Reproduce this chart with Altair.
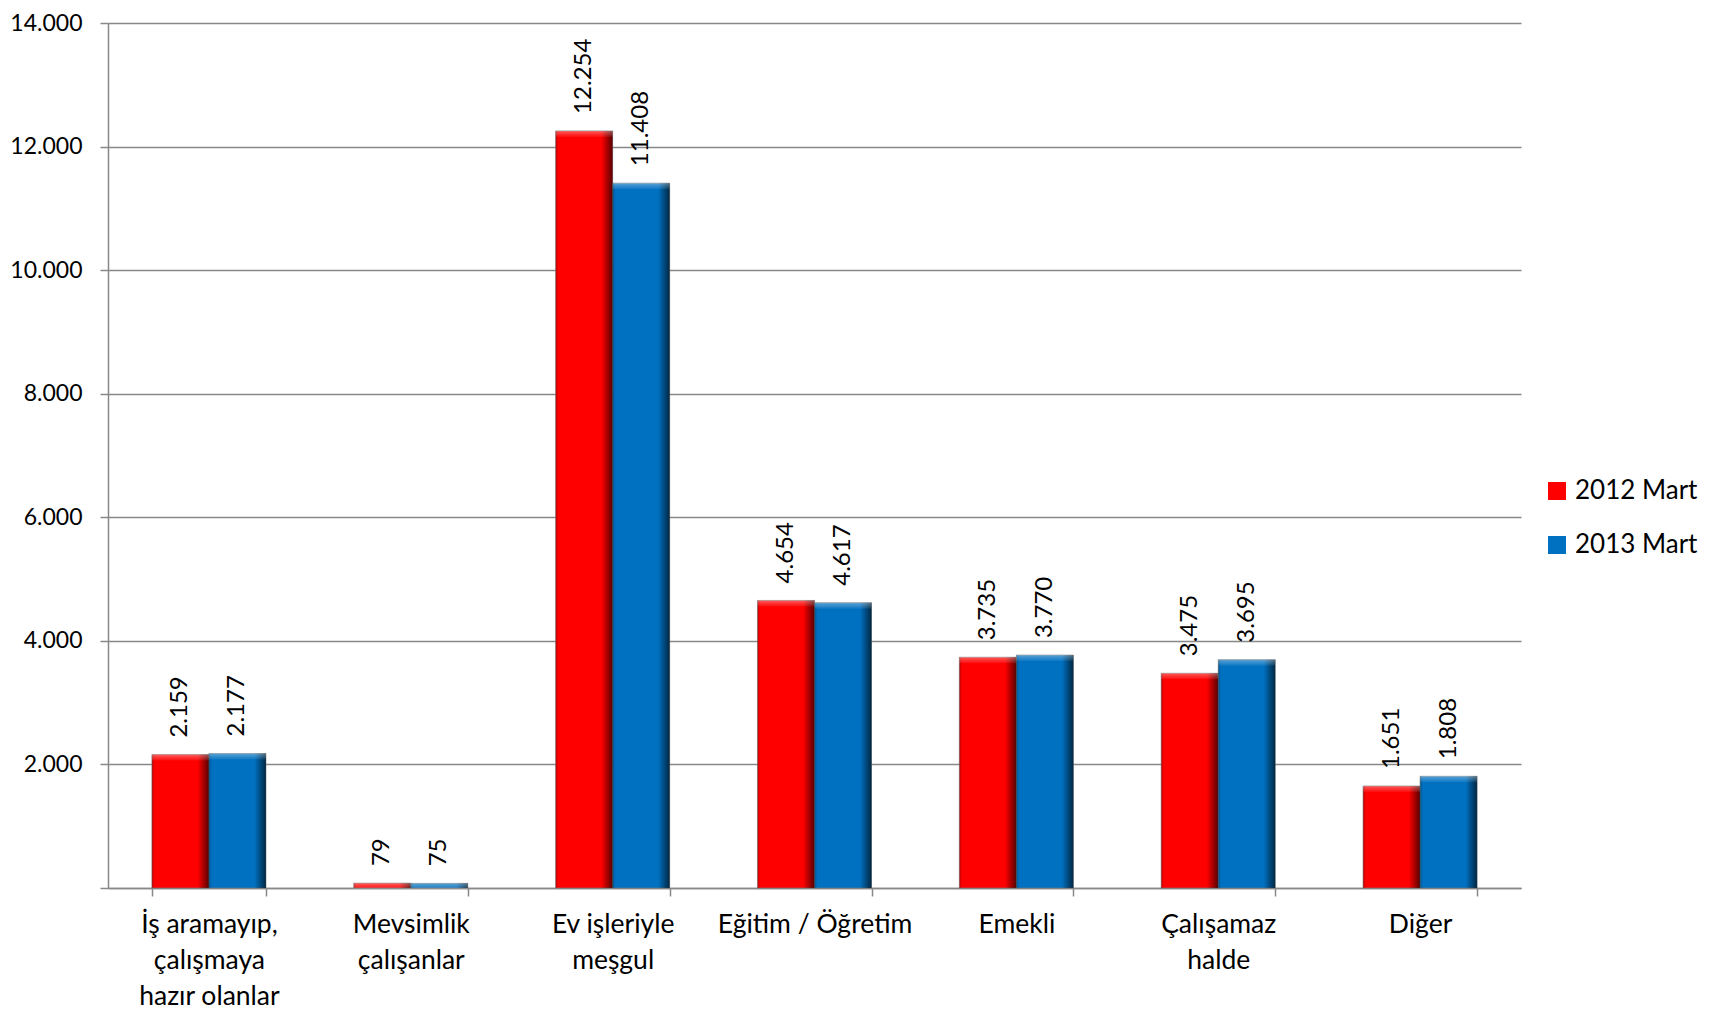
import altair as alt
import pandas as pd

categories = [
    "İş aramayıp,|çalışmaya|hazır olanlar",
    "Mevsimlik|çalışanlar",
    "Ev işleriyle|meşgul",
    "Eğitim / Öğretim",
    "Emekli",
    "Çalışamaz|halde",
    "Diğer",
]
series = ["2012 Mart", "2013 Mart"]
values_2012 = [2159, 79, 12254, 4654, 3735, 3475, 1651]
values_2013 = [2177, 75, 11408, 4617, 3770, 3695, 1808]
colors = ["#FF0000", "#0070C0"]
y_ticks = [0, 2000, 4000, 6000, 8000, 10000, 12000, 14000]

rows = []
for s, vals in zip(series, [values_2012, values_2013]):
    for c, v in zip(categories, vals):
        rows.append({"cat": c, "series": s, "value": v,
                     "label": f"{v:,}".replace(",", ".")})
df = pd.DataFrame(rows)

FONT = "Lato"
GRAY = "#888888"

x = alt.X(
    "cat:N", sort=categories, title=None,
    scale=alt.Scale(paddingInner=0.435, paddingOuter=0.2175),
    axis=alt.Axis(
        labelExpr="split(datum.label, '|')", labelAngle=0, tickBand="extent",
        domainColor=GRAY, domainWidth=1.5, tickColor=GRAY, tickWidth=1.5, tickSize=8,
        labelFontSize=26.5, labelFont=FONT, labelColor="black", labelPadding=15,
        labelLineHeight=36, labelBaseline="top", labelLimit=400, grid=False,
    ),
)
xo = alt.XOffset("series:N", sort=series, scale=alt.Scale(paddingInner=0, paddingOuter=0))
y = alt.Y(
    "value:Q", title=None,
    scale=alt.Scale(domain=[0, 14000], nice=False),
    axis=alt.Axis(
        values=y_ticks,
        labelExpr="datum.value == 0 ? '' : replace(format(datum.value, ',.0f'), ',', '.')",
        grid=True, gridColor=GRAY, gridWidth=1.5,
        domainColor=GRAY, domainWidth=1.5, tickColor=GRAY, tickWidth=1.5, tickSize=8,
        labelFontSize=23, labelFont=FONT, labelColor="black", labelPadding=18,
    ),
)

base = alt.Chart(df)

bars = base.mark_bar(stroke="#7a7a7a", strokeWidth=0.6).encode(
    x=x, xOffset=xo, y=y,
    color=alt.Color(
        "series:N", sort=series,
        scale=alt.Scale(domain=series, range=colors),
        legend=alt.Legend(
            title=None, orient="none", legendX=1436, legendY=455,
            symbolType="square", symbolSize=324, symbolStrokeWidth=0,
            labelFontSize=26, labelFont=FONT, labelColor="black",
            rowPadding=28, padding=0, labelOffset=5,
        ),
    ),
)

shade = base.mark_bar(
    fill=alt.LinearGradient(
        gradient="linear", x1=0, x2=1, y1=0, y2=0,
        stops=[
            alt.GradientStop(offset=0, color="rgba(0,0,0,0.25)"),
            alt.GradientStop(offset=0.05, color="rgba(0,0,0,0)"),
            alt.GradientStop(offset=0.8, color="rgba(0,0,0,0)"),
            alt.GradientStop(offset=1, color="rgba(0,0,0,0.65)"),
        ],
    )
).encode(x=x, xOffset=xo, y=y)

highlight = base.mark_bar(
    y2Offset=6,
    fill=alt.LinearGradient(
        gradient="linear", x1=0, x2=0, y1=0, y2=1,
        stops=[
            alt.GradientStop(offset=0, color="rgba(255,255,255,0.35)"),
            alt.GradientStop(offset=1, color="rgba(255,255,255,0.05)"),
        ],
    ),
).encode(x=x, xOffset=xo, y=y, y2=alt.Y2("value:Q"))

labels = base.mark_text(
    angle=270, align="left", baseline="middle", dx=17,
    fontSize=24, font=FONT, color="black",
).encode(x=x, xOffset=xo, y=y, text="label:N")

chart = alt.layer(bars, shade, highlight, labels).properties(
    width=1413, height=865,
    autosize=alt.AutoSizeParams(type="none"),
    padding={"left": 100, "top": 15, "right": 190, "bottom": 125},
).configure_view(stroke=None)

chart.save("out.html", embed_options={"renderer": "svg", "actions": False})
